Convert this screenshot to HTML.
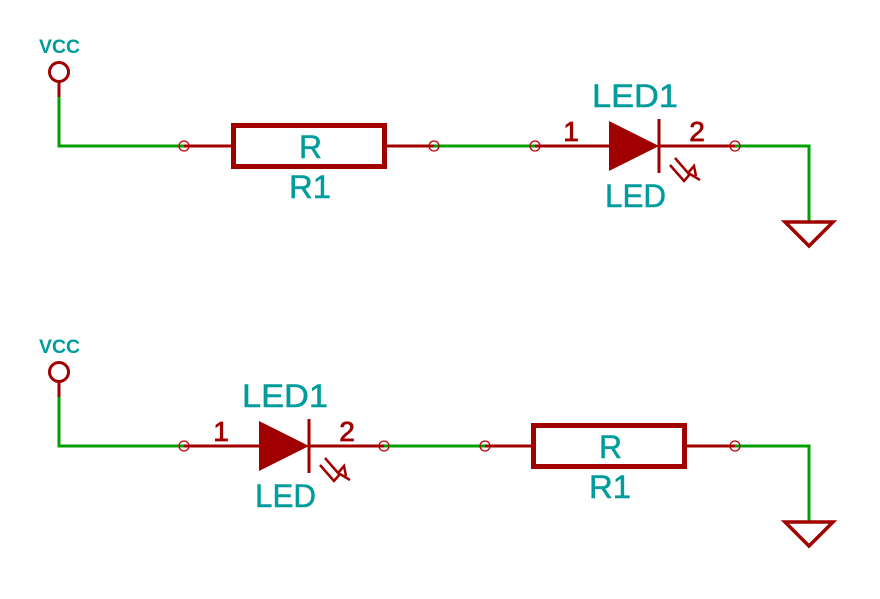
<!DOCTYPE html>
<html><head><meta charset="utf-8"><style>
html,body{margin:0;padding:0;background:#fff;}
svg{display:block}
text{font-family:"Liberation Sans",sans-serif;}
.t{fill:#009c9c;stroke:#009c9c;stroke-width:0.5;}
.n{fill:#a00000;stroke:#a00000;stroke-width:0.8;}
</style></head><body>
<svg width="880" height="599" viewBox="0 0 880 599" xmlns="http://www.w3.org/2000/svg">
<defs>
<g id="gnd">
  <polygon points="785,222 833,222 809,246" fill="none" stroke="#a00000" stroke-width="3.5"/>
</g>
<g id="vcc">
  <circle cx="59" cy="72" r="9.5" fill="none" stroke="#a00000" stroke-width="3"/>
  <line x1="59" y1="82" x2="59" y2="97" stroke="#a00000" stroke-width="3"/>
  <text x="39" y="53" font-size="19" font-weight="bold" fill="#009c9c" textLength="41" lengthAdjust="spacingAndGlyphs">VCC</text>
</g>
<g id="pin"><circle r="5" fill="none" stroke="#c00000" stroke-width="1.3"/></g>
<g id="led">
  <polygon points="0,-25 50,0 0,25" fill="#a00000"/>
  <line x1="50" y1="-27" x2="50" y2="27" stroke="#a00000" stroke-width="3"/>
  <polyline points="66,12 79,27 85,20 87,30" fill="none" stroke="#a00000" stroke-width="2.5"/>
  <polyline points="61,19 75,35 81,28 91,34" fill="none" stroke="#a00000" stroke-width="2.5"/>
</g>
<g id="res">
  <rect x="0" y="-20.5" width="151" height="41" fill="none" stroke="#a00000" stroke-width="5"/>
</g>
</defs>

<use href="#vcc"/>
<polyline points="59,97 59,146 184,146" fill="none" stroke="#00a000" stroke-width="3"/>
<line x1="184" y1="146" x2="234" y2="146" stroke="#a00000" stroke-width="3"/>
<g transform="translate(233.5,146)"><use href="#res"/></g>
<line x1="386" y1="146" x2="434" y2="146" stroke="#a00000" stroke-width="3"/>
<line x1="434" y1="146" x2="535" y2="146" stroke="#00a000" stroke-width="3"/>
<line x1="535" y1="146" x2="610" y2="146" stroke="#a00000" stroke-width="3"/>
<g transform="translate(609,146)"><use href="#led"/></g>
<line x1="660" y1="146" x2="735" y2="146" stroke="#a00000" stroke-width="3"/>
<polyline points="735,146 809,146 809,222" fill="none" stroke="#00a000" stroke-width="3"/>
<use href="#gnd"/>
<use href="#pin" x="184" y="146"/><use href="#pin" x="434" y="146"/>
<use href="#pin" x="535" y="146"/><use href="#pin" x="735" y="146"/>
<text x="299" y="158" font-size="32" class="t" textLength="23" lengthAdjust="spacingAndGlyphs">R</text>
<text x="289" y="198" font-size="32" class="t" textLength="42" lengthAdjust="spacingAndGlyphs">R1</text>
<text x="592" y="107" font-size="32" class="t" textLength="86" lengthAdjust="spacingAndGlyphs">LED1</text>
<text x="605" y="207" font-size="32" class="t" textLength="61" lengthAdjust="spacingAndGlyphs">LED</text>
<text x="571" y="141" font-size="28" class="n" text-anchor="middle">1</text>
<text x="697" y="141" font-size="28" class="n" text-anchor="middle">2</text>

<g transform="translate(0,300)"><use href="#vcc"/></g>
<polyline points="59,397 59,446 184,446" fill="none" stroke="#00a000" stroke-width="3"/>
<line x1="184" y1="446" x2="260" y2="446" stroke="#a00000" stroke-width="3"/>
<g transform="translate(259,446)"><use href="#led"/></g>
<line x1="310" y1="446" x2="384" y2="446" stroke="#a00000" stroke-width="3"/>
<line x1="384" y1="446" x2="485" y2="446" stroke="#00a000" stroke-width="3"/>
<line x1="485" y1="446" x2="534" y2="446" stroke="#a00000" stroke-width="3"/>
<g transform="translate(533.5,446)"><use href="#res"/></g>
<line x1="686" y1="446" x2="735" y2="446" stroke="#a00000" stroke-width="3"/>
<polyline points="735,446 809,446 809,522" fill="none" stroke="#00a000" stroke-width="3"/>
<g transform="translate(0,300)"><use href="#gnd"/></g>
<use href="#pin" x="184" y="446"/><use href="#pin" x="384" y="446"/>
<use href="#pin" x="485" y="446"/><use href="#pin" x="735" y="446"/>
<text x="599" y="458" font-size="32" class="t" textLength="23" lengthAdjust="spacingAndGlyphs">R</text>
<text x="589" y="498" font-size="32" class="t" textLength="42" lengthAdjust="spacingAndGlyphs">R1</text>
<text x="242" y="407" font-size="32" class="t" textLength="86" lengthAdjust="spacingAndGlyphs">LED1</text>
<text x="255" y="507" font-size="32" class="t" textLength="61" lengthAdjust="spacingAndGlyphs">LED</text>
<text x="221" y="441" font-size="28" class="n" text-anchor="middle">1</text>
<text x="347" y="441" font-size="28" class="n" text-anchor="middle">2</text>
</svg>
</body></html>
